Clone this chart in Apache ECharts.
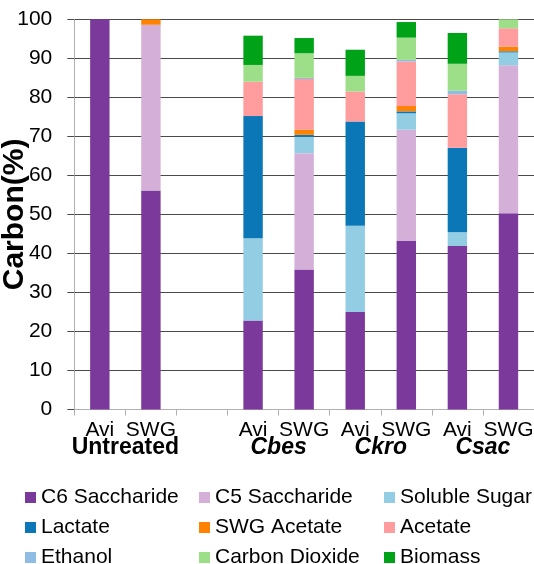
<!DOCTYPE html>
<html>
<head>
<meta charset="utf-8">
<script src="https://cdn.jsdelivr.net/npm/echarts@6/dist/echarts.min.js"></script>
<style>html,body{margin:0;padding:0;background:#fff}#c{width:534px;height:564px}</style>
</head>
<body>
<div id="c"></div>
<script>
var categories = ['Avi', 'SWG', '', 'Avi', 'SWG', 'Avi', 'SWG', 'Avi', 'SWG'];
var groupLabels = { 1: 'Untreated', 4: 'Cbes', 6: 'Ckro', 8: 'Csac' };
var yTicks = [0, 10, 20, 30, 40, 50, 60, 70, 80, 90, 100];

var c6Saccharide   = [100, 56.1, null, 22.8, 35.9, 25.0, 43.2, 41.9, 50.3];
var c5Saccharide   = [0, 42.5, null, 0, 29.8, 0, 28.5, 0, 37.9];
var solubleSugar   = [0, 0, null, 21.1, 4.2, 22.1, 4.2, 3.5, 3.3];
var lactate        = [0, 0, null, 31.3, 0.5, 26.7, 0.5, 21.7, 0.3];
var swgAcetate     = [0, 1.4, null, 0, 1.3, 0, 1.4, 0, 1.2];
var acetate        = [0, 0, null, 8.8, 13.0, 7.7, 11.4, 13.7, 4.7];
var ethanol        = [0, 0, null, 0, 0.3, 0, 0.4, 0.9, 0];
var carbonDioxide  = [0, 0, null, 4.3, 6.3, 4.0, 5.7, 6.9, 2.5];
var biomass        = [0, 0, null, 7.5, 3.9, 6.7, 4.0, 7.9, 0.7];

var seriesDefs = [
  ['C6 Saccharide', c6Saccharide, '#7B3A9B'],
  ['C5 Saccharide', c5Saccharide, '#D4B0D8'],
  ['Soluble Sugar', solubleSugar, '#93CDE4'],
  ['Lactate', lactate, '#0B77B6'],
  ['SWG Acetate', swgAcetate, '#FF8300'],
  ['Acetate', acetate, '#FF9C9E'],
  ['Ethanol', ethanol, '#8EBCE2'],
  ['Carbon Dioxide', carbonDioxide, '#9DDF88'],
  ['Biomass', biomass, '#00A318']
];

var FONT = 'Liberation Sans, Arial, Helvetica, sans-serif';

var chart = echarts.init(document.getElementById('c'), null, { renderer: 'canvas' });

var legendCommon = {
  orient: 'vertical',
  top: 486.5,
  height: 100,
  padding: 0,
  icon: 'rect',
  itemWidth: 11,
  itemHeight: 11,
  itemGap: 8,
  selectedMode: false,
  textStyle: { fontFamily: FONT, fontSize: 21, color: '#000', lineHeight: 22 }
};

var option = {
  animation: false,
  backgroundColor: '#fff',
  textStyle: { fontFamily: FONT },
  grid: { left: 74.3, right: 0, top: 19.3, bottom: 154.5, containLabel: false, outerBoundsMode: 'none' },
  legend: [
    Object.assign({}, legendCommon, { left: 25, data: ['C6 Saccharide', 'Lactate', 'Ethanol'] }),
    Object.assign({}, legendCommon, { left: 199, data: ['C5 Saccharide', 'SWG Acetate', 'Carbon Dioxide'] }),
    Object.assign({}, legendCommon, { left: 384, data: ['Soluble Sugar', 'Acetate', 'Biomass'] })
  ],
  xAxis: [
    {
      type: 'category',
      data: categories,
      axisLine: { lineStyle: { color: '#B0B0B0', width: 1 } },
      axisTick: { show: true, length: 6, lineStyle: { color: '#B0B0B0' } },
      axisLabel: { fontFamily: FONT, fontSize: 21, color: '#000', margin: 10, interval: 0 },
      splitLine: { show: false }
    },
    {
      type: 'value',
      min: 0,
      max: 9,
      interval: 1,
      position: 'bottom',
      axisLine: { show: false },
      axisTick: { show: false },
      splitLine: { show: false },
      axisLabel: {
        showMinLabel: true,
        showMaxLabel: true,
        margin: 27,
        formatter: function (v) {
          var s = groupLabels[v];
          if (!s) return '';
          return v === 1 ? '{b|' + s + '}' : '{i|' + s + '}';
        },
        rich: {
          b: { fontFamily: FONT, fontSize: 23, fontWeight: 'bold', color: '#000' },
          i: { fontFamily: FONT, fontSize: 23, fontWeight: 'bold', fontStyle: 'italic', color: '#000' }
        }
      }
    }
  ],
  yAxis: {
    type: 'value',
    min: 0,
    max: 100,
    interval: 10,
    name: 'Carbon(%)',
    nameLocation: 'middle',
    nameGap: 45,
    nameMoveOverlap: false,
    nameTextStyle: { fontFamily: FONT, fontSize: 30, fontWeight: 'bold', color: '#000' },
    axisLine: { show: true, lineStyle: { color: '#B0B0B0', width: 1 } },
    axisTick: { show: true, length: 7, lineStyle: { color: '#4A4A4A' } },
    axisLabel: {
      fontFamily: FONT, fontSize: 21, color: '#000', margin: 22,
      formatter: function (v) { return yTicks.indexOf(v) >= 0 ? String(v) : ''; }
    },
    splitLine: { show: true, lineStyle: { color: '#4A4A4A', width: 1 } }
  },
  series: seriesDefs.map(function (d) {
    return {
      name: d[0],
      type: 'bar',
      stack: 'total',
      xAxisIndex: 0,
      barWidth: '38%',
      data: d[1],
      itemStyle: { color: d[2] },
      emphasis: { disabled: true }
    };
  })
};

chart.setOption(option);
</script>
</body>
</html>
